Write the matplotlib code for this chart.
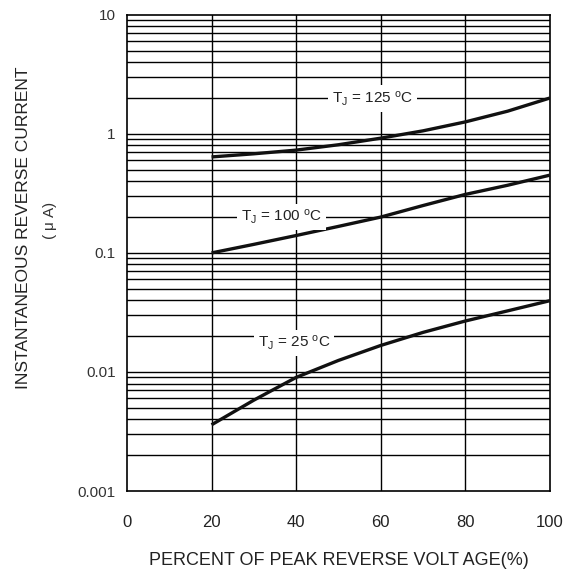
import numpy as np
import matplotlib
matplotlib.use('Agg')
import matplotlib.pyplot as plt

plt.rcParams['font.family'] = ['Liberation Sans', 'DejaVu Sans']
plt.rcParams['mathtext.default'] = 'regular'

# Data (percent of peak reverse voltage vs current in uA)
pct = [20, 30, 40, 50, 60, 70, 80, 90, 100]
i_125 = [0.64, 0.68, 0.73, 0.81, 0.92, 1.06, 1.26, 1.55, 2.0]
i_100 = [0.10, 0.118, 0.14, 0.167, 0.20, 0.25, 0.31, 0.37, 0.45]
i_25 = [0.0036, 0.0058, 0.0090, 0.0125, 0.0167, 0.0215, 0.0268, 0.0326, 0.0397]

labels = ['T$_{J}$ = 125 $^{o}$C', 'T$_{J}$ = 100 $^{o}$C', 'T$_{J}$ = 25 $^{o}$C']
label_pos = [(58, 1.97), (36.5, 0.2), (39.5, 0.0175)]

x_ticks = [0, 20, 40, 60, 80, 100]
y_ticks = [0.001, 0.01, 0.1, 1, 10]
y_ticklabels = ['0.001', '0.01', '0.1', '1', '10']

fig = plt.figure(figsize=(5.77, 5.69), dpi=100)
ax = fig.add_axes([0.220, 0.137, 0.733, 0.837])

ax.set_yscale('log')
ax.set_xlim(0, 100)
ax.set_ylim(0.001, 10)

# grid: every decade step plus 20% verticals
for dec in [0.001, 0.01, 0.1, 1]:
    for m in range(2, 10):
        ax.axhline(dec * m, color='black', lw=1.0, zorder=1)
for d in [0.01, 0.1, 1]:
    ax.axhline(d, color='black', lw=1.0, zorder=1)
for xv in [20, 40, 60, 80]:
    ax.axvline(xv, color='black', lw=1.0, zorder=1)

for ys in [i_125, i_100, i_25]:
    ax.plot(pct, ys, color='#111111', lw=2.4, zorder=3, solid_capstyle='butt')

for txt, (xp, yp) in zip(labels, label_pos):
    ax.text(xp, yp, txt, ha='center', va='center', fontsize=11, color='#222222', zorder=4,
            bbox=dict(facecolor='white', edgecolor='none', pad=3))

for s in ax.spines.values():
    s.set_linewidth(1.2)
    s.set_color('black')

ax.set_xticks(x_ticks)
ax.set_xticklabels([str(v) for v in x_ticks], fontsize=12, color='#222222')
ax.set_yticks(y_ticks)
ax.set_yticklabels(y_ticklabels, fontsize=11, color='#333333')
ax.minorticks_off()
ax.tick_params(axis='x', length=0, pad=17)
ax.tick_params(axis='y', length=0, pad=8)

ax.set_xlabel('PERCENT OF PEAK REVERSE VOLT AGE(%)', fontsize=13, color='#222222', labelpad=16)
fig.text(0.040, 0.600, 'INSTANTANEOUS REVERSE CURRENT', rotation=90, ha='center', va='center',
         fontsize=12.5, color='#222222')
fig.text(0.087, 0.613, '( $\\mu$ A)', rotation=90, ha='center', va='center',
         fontsize=11, color='#333333')

plt.savefig('out.png', dpi=100)
plt.close()
